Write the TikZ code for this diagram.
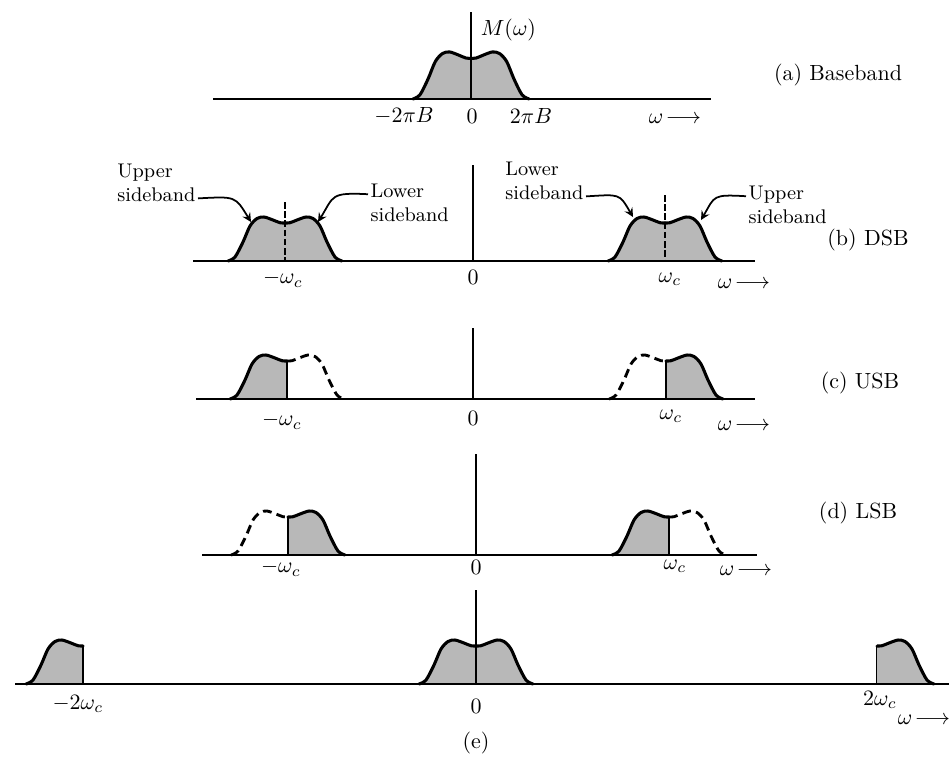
\documentclass[tikz,border=0pt]{standalone}
\usepackage{tikz}
\usetikzlibrary{arrows}

\begin{document}
\begin{tikzpicture}[x=0.016cm, y=-0.016cm,
  font=\normalsize,
  axis/.style={line width=0.9pt},
  ord/.style={line width=0.6pt},
  curve/.style={line width=1.4pt, line join=round, line cap=round},
  ghost/.style={line width=1.3pt, dash pattern=on 4pt off 2.4pt},
  band/.style={fill=black!28},
  carrier/.style={line width=0.6pt, dash pattern=on 3pt off 1.2pt},
  cutline/.style={line width=0.7pt},
  note/.style={font=\small, align=left, inner sep=1pt},
  pointer/.style={->, >=stealth, line width=0.8pt},
  lobeL/.pic={
    \fill[band] plot[smooth] coordinates {(-57,0) (-50,-4) (-42,-19) (-35,-35) (-28,-42.5) (-21,-44) (-12,-41) (-5,-38.3) (0,-38)} -- (0,0) -- cycle;
    \draw[curve] plot[smooth] coordinates {(-57,0) (-50,-4) (-42,-19) (-35,-35) (-28,-42.5) (-21,-44) (-12,-41) (-5,-38.3) (0,-38)};
  },
  lobeR/.pic={
    \fill[band] (0,0) -- plot[smooth] coordinates {(0,-38) (5,-38.3) (12,-41) (21,-44) (28,-42.5) (35,-35) (42,-19) (50,-4) (57,0)} -- cycle;
    \draw[curve] plot[smooth] coordinates {(0,-38) (5,-38.3) (12,-41) (21,-44) (28,-42.5) (35,-35) (42,-19) (50,-4) (57,0)};
  },
  ghostL/.pic={
    \draw[ghost] plot[smooth] coordinates {(-57,0) (-50,-4) (-42,-19) (-35,-35) (-28,-42.5) (-21,-44) (-12,-41) (-5,-38.3) (0,-38)};
  },
  ghostR/.pic={
    \draw[ghost] plot[smooth] coordinates {(0,-38) (5,-38.3) (12,-41) (21,-44) (28,-42.5) (35,-35) (42,-19) (50,-4) (57,0)};
  },
  cut/.pic={
    \draw[cutline] (0,0) -- (0,-38);
  },
]
\useasboundingbox (0,0) rectangle (949,761);

%% (a) baseband
\pic[xscale=1.02, yscale=1.07] at (471,99) {lobeL};
\pic[xscale=1.02, yscale=1.07] at (471,99) {lobeR};
\draw[axis] (213,99) -- (711,99);
\draw[ord]  (471,12) -- (471,99);
\node[anchor=west] (mw) at (473,30)  {$M(\omega)$};
\node (ma) at (404,116) {$-2\pi B$};
\node (za) at (472,116) {$0$};
\node (pa) at (531,116) {$2\pi B$};
\node (wa) at (675,119) {$\omega\!\longrightarrow$};
\node (ta) at (838,75)  {(a) Baseband};

%% (b) DSB
\pic at (285,261) {lobeL};
\pic at (285,261) {lobeR};
\pic at (665,261) {lobeL};
\pic at (665,261) {lobeR};
\draw[axis] (193,261) -- (755,261);
\draw[ord]  (473,165) -- (473,261);
\draw[carrier] (285,202) -- (285,261);
\draw[carrier] (665,195) -- (665,261);
\node (mb) at (283,279) {$-\omega_c$};
\node (zb) at (473,277) {$0$};
\node (pb) at (670,279) {$\omega_c$};
\node (wb) at (744,284) {$\omega\!\longrightarrow$};
\node (tb) at (868,240) {(b) DSB};
\node[note, anchor=east] (usbL) at (198,183) {Upper\\sideband};
\node[note, anchor=west] (lsbL) at (368,203) {Lower\\sideband};
\node[note, anchor=east] (lsbR) at (586,181) {Lower\\sideband};
\node[note, anchor=west] (usbR) at (746,205) {Upper\\sideband};
\coordinate (tipUL) at (251,222);
\coordinate (tipLL) at (318,222);
\coordinate (tipLR) at (633,217);
\coordinate (tipUR) at (701,220);
\draw[pointer] ([yshift=-7pt]usbL.east) .. controls +(38,-2) and +(-16,-26) .. (tipUL);
\draw[pointer] ([yshift=4pt]lsbL.west) .. controls +(-38,-2) and +(16,-26) .. (tipLL);
\draw[pointer] ([yshift=-7pt]lsbR.east) .. controls +(34,-2) and +(-14,-24) .. (tipLR);
\draw[pointer] ([yshift=4pt]usbR.west) .. controls +(-34,-2) and +(14,-24) .. (tipUR);

%% (c) USB
\pic at (287,399) {lobeL};
\pic at (287,399) {cut};
\pic at (287,399) {ghostR};
\pic at (666,399) {ghostL};
\pic at (666,399) {lobeR};
\pic at (666,399) {cut};
\draw[axis] (196,399) -- (755,399);
\draw[ord]  (473,328) -- (473,399);
\node (mc) at (282,421) {$-\omega_c$};
\node (zc) at (473,418) {$0$};
\node (pc) at (671,416) {$\omega_c$};
\node (wc) at (744,426) {$\omega\!\longrightarrow$};
\node (tc) at (860,383) {(c) USB};

%% (d) LSB
\pic at (288,555) {ghostL};
\pic at (288,555) {lobeR};
\pic at (288,555) {cut};
\pic at (669,555) {lobeL};
\pic at (669,555) {cut};
\pic at (669,555) {ghostR};
\draw[axis] (202,555) -- (757,555);
\draw[ord]  (476,454) -- (476,555);
\node (md) at (281,568) {$-\omega_c$};
\node (zd) at (476,567) {$0$};
\node (pd) at (675,566) {$\omega_c$};
\node (wd) at (746,571) {$\omega\!\longrightarrow$};
\node (td) at (858,513) {(d) LSB};

%% (e)
\pic at (83,684)  {lobeL};
\pic at (83,684)  {cut};
\pic at (476,684) {lobeL};
\pic at (476,684) {lobeR};
\pic at (877,684) {cut};
\pic at (877,684) {lobeR};
\draw[axis] (15,684) -- (949,684);
\draw[ord]  (476,590) -- (476,684);
\node (me) at (78,704)  {$-2\omega_c$};
\node (ze) at (476,706) {$0$};
\node (pe) at (880,700) {$2\omega_c$};
\node (we) at (924,720) {$\omega\!\longrightarrow$};
\node (te) at (476,743) {(e)};
\end{tikzpicture}
\end{document}
